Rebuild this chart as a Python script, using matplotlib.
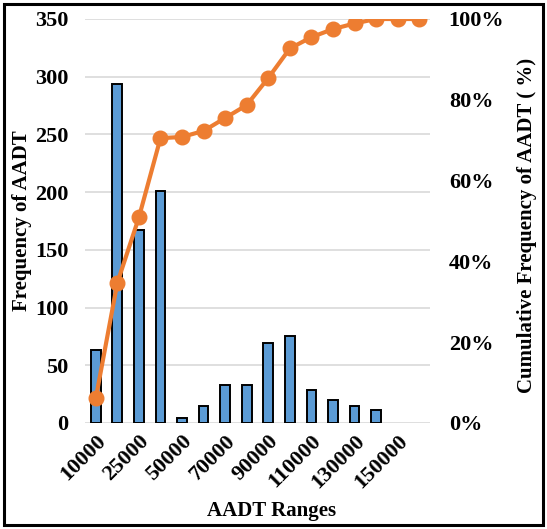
import matplotlib
matplotlib.use("Agg")
import matplotlib.pyplot as plt
from matplotlib.patches import Rectangle
import numpy as np

# AADT range bins (16 bins; every other bin is labelled on the axis)
n_bins = 16
tick_positions = [0, 2, 4, 6, 8, 10, 12, 14]
tick_labels = ["10000", "25000", "50000", "70000", "90000", "110000", "130000", "150000"]

# Frequency of AADT per bin (the last two bins hold no records)
frequency = [63, 294, 167, 201, 4, 15, 33, 33, 69, 75, 29, 20, 15, 11]

# Cumulative frequency (%) over all 16 bins
cumulative_pct = [6.1, 34.7, 50.9, 70.5, 70.8, 72.3, 75.5, 78.7, 85.4, 92.7,
                  95.5, 97.5, 98.9, 100.0, 100.0, 100.0]

plt.rcParams["font.family"] = ["Liberation Serif", "DejaVu Serif"]
plt.rcParams["font.weight"] = "bold"

W, H = 547, 529
fig = plt.figure(figsize=(W / 100, H / 100), dpi=100)

ax = fig.add_axes([85 / W, 1 - 423 / H, (430 - 85) / W, (423 - 19) / H])
x = np.arange(n_bins)

ax.set_ylim(0, 350)
ax.set_yticks(np.arange(0, 351, 50))
ax.set_xlim(-0.5, n_bins - 0.5)
ax.grid(axis="y", color="#D9D9D9", linewidth=1.2, zorder=0)
ax.set_axisbelow(True)
for s in ax.spines.values():
    s.set_visible(False)
ax.tick_params(axis="y", length=0, labelsize=16, pad=12)
ax.tick_params(axis="x", length=0, pad=6)

ax.bar(x[:len(frequency)], frequency, width=0.45, color="#5B9BD5",
       edgecolor="black", linewidth=1.4, zorder=2)

ax.set_xticks(tick_positions)
ax.set_xticklabels(tick_labels, rotation=45, ha="right", va="top",
                   rotation_mode="anchor", fontsize=16, fontweight="bold")
for lbl in ax.get_yticklabels():
    lbl.set_fontweight("bold")

ax.set_ylabel("Frequency of AADT", fontsize=15, fontweight="bold")
ax.yaxis.set_label_coords((22 - 85) / (430 - 85), 0.5)
ax.set_xlabel("AADT Ranges", fontsize=15, fontweight="bold")
ax.xaxis.set_label_coords((272 - 85) / (430 - 85), -(511 - 423) / (423 - 19))
ax.xaxis.label.set_va("center")
ax.yaxis.label.set_va("center")

ax2 = ax.twinx()
ax2.set_ylim(0, 100)
ax2.set_yticks(np.arange(0, 101, 20))
ax2.set_yticklabels([f"{v}%" for v in range(0, 101, 20)], fontsize=16,
                    fontweight="bold")
for s in ax2.spines.values():
    s.set_visible(False)
ax2.tick_params(axis="y", length=0, pad=13.5)
ax2.plot(x, cumulative_pct, color="#ED7D31", linewidth=3, marker="o",
         markersize=10.5, zorder=3)
ax2.set_ylabel("Cumulative Frequency of AADT ( %)", fontsize=15,
               fontweight="bold", rotation=90)
ax2.yaxis.set_label_coords((527 - 85) / (430 - 85), 0.49)
ax2.yaxis.label.set_va("center")

# outer frame around the figure
fig.patches.append(Rectangle((4 / W, 4 / H), (W - 8) / W, (H - 8) / H,
                             transform=fig.transFigure, fill=False,
                             edgecolor="black", linewidth=2.2))

fig.savefig("out.png", dpi=100)
